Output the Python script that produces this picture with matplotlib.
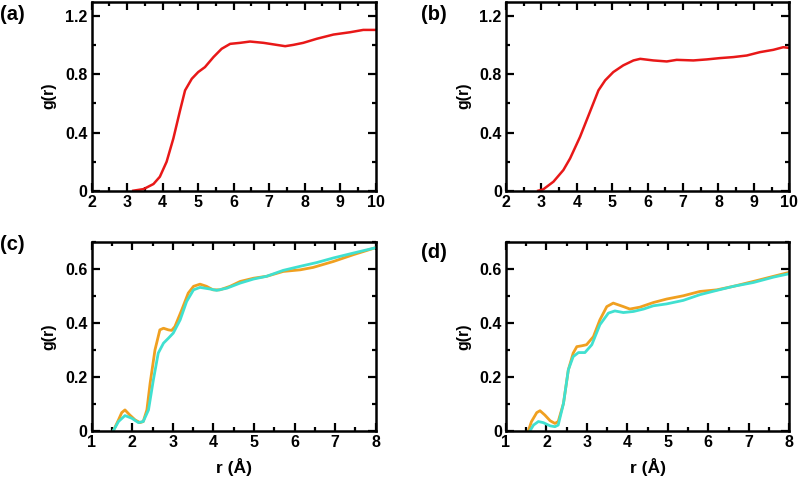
import matplotlib
matplotlib.use("Agg")
import matplotlib.pyplot as plt
from matplotlib.ticker import MultipleLocator

plt.rcParams['font.family'] = ['Liberation Sans', 'DejaVu Sans']
plt.rcParams['font.weight'] = 'bold'

# Panel (a)
a_r = [3.17, 3.46, 3.74, 3.92, 4.11, 4.30, 4.49, 4.63, 4.82, 5.00, 5.19, 5.43, 5.66, 5.90,
       6.18, 6.46, 6.84, 7.21, 7.45, 7.68, 7.96, 8.34, 8.81, 9.28, 9.65, 9.98]
a_g = [0.0, 0.011, 0.046, 0.096, 0.199, 0.359, 0.553, 0.69, 0.77, 0.816, 0.85, 0.919, 0.976, 1.01,
       1.017, 1.026, 1.017, 1.003, 0.994, 1.003, 1.017, 1.045, 1.074, 1.09, 1.106, 1.106]

# Panel (b)
b_r = [2.91, 3.05, 3.34, 3.62, 3.81, 4.09, 4.37, 4.61, 4.80, 5.03, 5.31, 5.60, 5.79, 6.16,
       6.54, 6.82, 7.29, 7.67, 8.04, 8.42, 8.80, 9.17, 9.55, 9.83, 9.97]
b_g = [0.0, 0.009, 0.062, 0.142, 0.222, 0.37, 0.542, 0.69, 0.759, 0.816, 0.862, 0.896, 0.907, 0.896,
       0.889, 0.9, 0.896, 0.903, 0.912, 0.919, 0.93, 0.953, 0.969, 0.987, 0.983]

# Panel (c)
c_r_orange = [1.53, 1.66, 1.74, 1.82, 1.94, 2.07, 2.19, 2.27, 2.36, 2.44, 2.56, 2.68, 2.77, 2.89,
              2.97, 3.05, 3.22, 3.38, 3.51, 3.67, 3.83, 3.99, 4.16, 4.41, 4.66, 4.99, 5.31, 5.72,
              6.14, 6.46, 6.96, 7.45, 7.98]
c_g_orange = [0.0, 0.041, 0.068, 0.078, 0.059, 0.041, 0.031, 0.035, 0.078, 0.177, 0.3, 0.374, 0.38, 0.374,
              0.372, 0.386, 0.448, 0.51, 0.535, 0.543, 0.535, 0.522, 0.522, 0.535, 0.553, 0.565, 0.572, 0.59,
              0.596, 0.605, 0.627, 0.652, 0.677]
c_r_cyan = [1.53, 1.66, 1.82, 1.99, 2.15, 2.27, 2.40, 2.52, 2.64, 2.77, 2.89, 3.01, 3.18, 3.34,
            3.51, 3.67, 3.92, 4.08, 4.33, 4.66, 4.99, 5.31, 5.72, 6.14, 6.55, 6.96, 7.45, 7.98]
c_g_cyan = [0.0, 0.035, 0.057, 0.047, 0.031, 0.035, 0.078, 0.189, 0.288, 0.325, 0.343, 0.362, 0.411, 0.479,
            0.522, 0.531, 0.525, 0.52, 0.528, 0.547, 0.562, 0.572, 0.594, 0.609, 0.623, 0.64, 0.658, 0.677]

# Panel (d)
d_r_orange = [1.55, 1.63, 1.76, 1.84, 1.96, 2.09, 2.21, 2.29, 2.42, 2.54, 2.66, 2.75, 2.87, 2.99,
              3.16, 3.32, 3.49, 3.65, 3.90, 4.06, 4.31, 4.64, 4.97, 5.38, 5.79, 6.21, 6.62, 7.11,
              7.61, 7.98]
d_g_orange = [0.0, 0.035, 0.068, 0.075, 0.059, 0.038, 0.028, 0.035, 0.102, 0.226, 0.288, 0.312, 0.315, 0.319,
              0.349, 0.411, 0.46, 0.473, 0.46, 0.451, 0.458, 0.475, 0.488, 0.5, 0.516, 0.522, 0.535, 0.553,
              0.572, 0.586]
d_r_cyan = [1.59, 1.68, 1.80, 1.92, 2.09, 2.21, 2.29, 2.42, 2.54, 2.66, 2.79, 2.95, 3.12, 3.32,
            3.53, 3.69, 3.90, 4.15, 4.40, 4.64, 4.97, 5.38, 5.79, 6.21, 6.62, 7.11, 7.61, 7.98]
d_g_cyan = [0.0, 0.022, 0.035, 0.031, 0.019, 0.016, 0.022, 0.102, 0.226, 0.275, 0.29, 0.29, 0.319, 0.393,
            0.436, 0.444, 0.438, 0.442, 0.451, 0.463, 0.47, 0.483, 0.504, 0.52, 0.535, 0.549, 0.569, 0.581]

top_xticks = [2, 3, 4, 5, 6, 7, 8, 9, 10]
top_yticks = [0, 0.4, 0.8, 1.2]
top_ylabels = ["0", "0.4", "0.8", "1.2"]
bot_xticks = [1, 2, 3, 4, 5, 6, 7, 8]
bot_yticks = [0, 0.2, 0.4, 0.6]
bot_ylabels = ["0", "0.2", "0.4", "0.6"]

RED = '#e81818'
ORANGE = '#f0a020'
CYAN = '#40e0d0'

W, H = 800, 478
fig = plt.figure(figsize=(8, 4.78), dpi=100)

def ax_at(left, top, right, bottom):
    return fig.add_axes([left / W, 1 - bottom / H, (right - left) / W, (bottom - top) / H])

def style(ax, xlim, ylim, xt, yt, ylabels, xminor, yminor):
    ax.set_xlim(*xlim)
    ax.set_ylim(*ylim)
    ax.set_xticks(xt)
    ax.set_xticklabels([str(v) for v in xt])
    ax.set_yticks(yt)
    ax.set_yticklabels(ylabels)
    ax.xaxis.set_minor_locator(MultipleLocator(xminor))
    ax.yaxis.set_minor_locator(MultipleLocator(yminor))
    ax.tick_params(which='both', direction='in', top=True, right=True, width=1.6)
    ax.tick_params(which='major', length=5.5, labelsize=11.5, pad=3)
    ax.tick_params(which='minor', length=3)
    for s in ax.spines.values():
        s.set_linewidth(1.8)
    for lab in ax.get_xticklabels() + ax.get_yticklabels():
        lab.set_fontweight('bold')

axA = ax_at(91.7, 1.7, 375.7, 190.7)
axB = ax_at(506, 1.7, 789.3, 190.7)
axC = ax_at(91.7, 241.7, 375.7, 431)
axD = ax_at(506, 241.7, 789.3, 431)

axA.plot(a_r, a_g, color=RED, lw=1.8)
axB.plot(b_r, b_g, color=RED, lw=1.8)
axC.plot(c_r_orange, c_g_orange, color=ORANGE, lw=2.0)
axC.plot(c_r_cyan, c_g_cyan, color=CYAN, lw=2.0)
axD.plot(d_r_orange, d_g_orange, color=ORANGE, lw=2.0)
axD.plot(d_r_cyan, d_g_cyan, color=CYAN, lw=2.0)

for ax in (axA, axB):
    style(ax, (2, 10), (0, 1.3), top_xticks, top_yticks, top_ylabels, 0.5, 0.2)
for ax in (axC, axD):
    style(ax, (1, 8), (0, 0.7), bot_xticks, bot_yticks, bot_ylabels, 0.5, 0.1)
    ax.set_xlabel("r (Å)", fontsize=12.5, fontweight='bold', labelpad=6)

for ax in (axA, axB, axC, axD):
    ax.set_ylabel("g(r)", fontsize=11.5, fontweight='bold', labelpad=6)

def ftext(x, y, s, **kw):
    fig.text(x / W, 1 - y / H, s, **kw)

ftext(0, 14, "(a)", fontsize=14.5, fontweight='bold', ha='left', va='center')
ftext(421, 14, "(b)", fontsize=14.5, fontweight='bold', ha='left', va='center')
ftext(0, 244, "(c)", fontsize=14.5, fontweight='bold', ha='left', va='center')
ftext(421, 252, "(d)", fontsize=14.5, fontweight='bold', ha='left', va='center')

fig.savefig("out.png", dpi=100)
